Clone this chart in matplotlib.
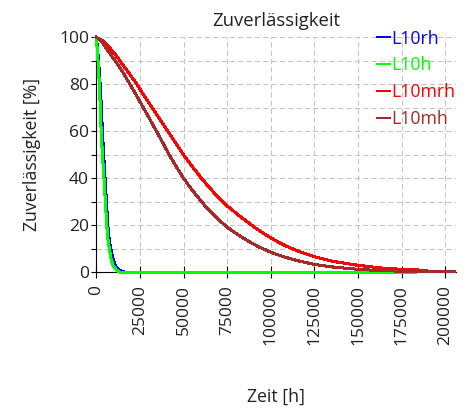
import matplotlib
matplotlib.use("Agg")
import matplotlib.pyplot as plt
from matplotlib.ticker import MultipleLocator

plt.rcParams['font.family'] = ['Open Sans', 'DejaVu Sans']

# --- data ---
t_rh = [0, 600, 1300, 2200, 2900, 3500, 4200, 5000, 5800, 6600, 7400, 8300,
        9500, 10800, 13000, 17000]
r_rh = [100, 96, 90, 80, 70, 60, 50, 40, 30, 20, 14, 10, 6, 3, 1, 0]

t_h = [0, 500, 1000, 1750, 2300, 2800, 3500, 4400, 5200, 6000, 6700, 7500,
       8400, 9500, 11500, 13700, 183000]
r_h = [100, 95, 90, 80, 70, 60, 50, 40, 30, 20, 14, 10, 6, 3, 1, 0, 0]

t_mrh = [0, 2500, 4800, 7400, 10500, 13500, 18500, 23300, 27500, 32000,
         36500, 41000, 45500, 50000, 55000, 60000, 65000, 70000, 75000,
         81700, 87500, 93300, 100000, 107000, 114700, 125000, 135600,
         150000, 154800, 163000, 175000, 189000]
r_mrh = [100, 99, 98, 95.7, 93, 90, 85, 80, 75, 70,
         65, 60, 55, 50, 45, 40.3, 35.9, 31.9, 28.3,
         24.2, 20.9, 17.8, 14.7, 11.8, 9.3, 6.7, 4.7,
         3.0, 2.6, 1.9, 1.3, 0.9]

t_mh = [0, 2000, 3800, 6000, 8400, 10800, 15300, 19300, 23200, 27000,
        30800, 34500, 38200, 41800, 45800, 50000, 55200, 59000, 63500, 68500,
        75000, 81700, 87500, 93300, 100000, 107000, 114700, 125000,
        135600, 150000, 162000, 175000, 190000, 205000]
r_mh = [100, 99, 97.5, 95, 92.5, 90, 85, 80, 75, 70,
        65, 60, 55, 50, 45, 40, 34.8, 31.3, 27.3, 23.5,
        19.2, 15.8, 13.1, 10.8, 8.6, 6.7, 5.1, 3.4,
        2.3, 1.3, 0.8, 0.5, 0.4, 0.3]

series = [("L10rh", t_rh, r_rh, "#0000ff"),
          ("L10h", t_h, r_h, "#00ff00"),
          ("L10mrh", t_mrh, r_mrh, "#ff0000"),
          ("L10mh", t_mh, r_mh, "#a52a2a")]

x_ticks = [0, 25000, 50000, 75000, 100000, 125000, 150000, 175000, 200000]
y_ticks = [0, 20, 40, 60, 80, 100]

W, H = 472, 413
fig = plt.figure(figsize=(W / 100, H / 100), dpi=100)
ax = fig.add_axes([96.3 / W, 1 - 272.4 / H, 359.5 / W, 235.1 / H])

for name, t, r, c in series:
    ax.plot(t, r, color=c, lw=1.45, label=name, antialiased=False,
            clip_on=False, zorder=3)

ax.set_xlim(0, 206000)
ax.set_ylim(0, 100)
ax.set_xticks(x_ticks)
ax.set_xticklabels([str(v) for v in x_ticks], rotation=90, fontsize=12.5,
                   color="#222222")
ax.set_yticks(y_ticks)
ax.set_yticklabels([str(v) for v in y_ticks], fontsize=12.5, color="#222222")
ax.yaxis.set_minor_locator(MultipleLocator(10))

ax.tick_params(axis='x', direction='inout', length=8.6, width=0.8, pad=5.0)
ax.tick_params(axis='y', which='both', direction='out', length=3.6, width=0.8,
               pad=1.6)

for s in ('top', 'right'):
    ax.spines[s].set_visible(False)
for s in ('left', 'bottom'):
    ax.spines[s].set_linewidth(0.8)
    ax.spines[s].set_color('black')

ax.grid(True, which='major', axis='both', color='#c4c4c4', lw=0.75,
        linestyle=(0, (5, 3)))
ax.grid(True, which='minor', axis='y', color='#c4c4c4', lw=0.75,
        linestyle=(0, (5, 3)))
ax.set_axisbelow(True)

ax.set_title("Zuverlässigkeit", fontsize=13.3, color="#222222", pad=8)
ax.set_xlabel("Zeit [h]", fontsize=12.8, color="#222222")
ax.xaxis.set_label_coords(0.5, -0.49)
ax.xaxis.label.set_va('top')
ax.set_ylabel("Zuverlässigkeit [%]", fontsize=12.8, color="#222222")
ax.yaxis.set_label_coords(-0.155, 0.5)

leg = fig.legend(loc='upper left', bbox_to_anchor=(376.5 / W, 1 - 29.5 / H),
                 frameon=False, fontsize=12.8, handlelength=0.75,
                 handletextpad=0.1, borderpad=0, borderaxespad=0,
                 labelspacing=0.5)
for txt, (_, _, _, c) in zip(leg.get_texts(), series):
    txt.set_color(c)
for h in leg.legend_handles:
    h.set_linewidth(1.45)

fig.savefig("out.png", dpi=100)
